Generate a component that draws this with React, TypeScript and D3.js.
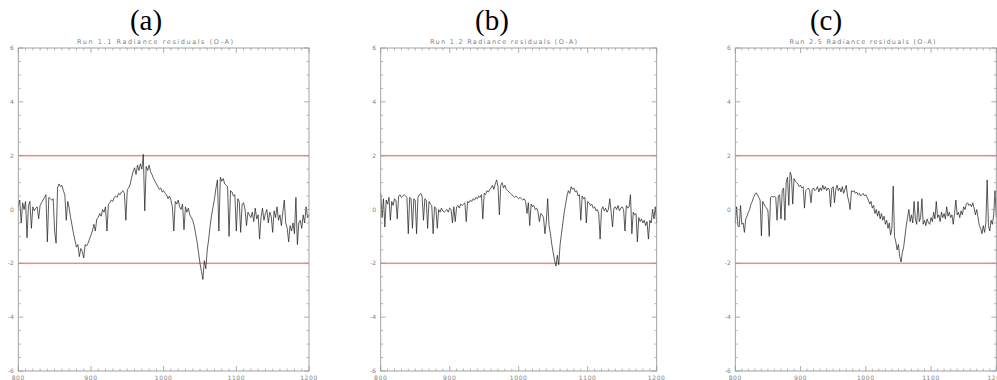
import * as d3 from "d3";

// spectral grid (cm-1), one residual per sample
const wavenumbers = d3.range(800, 1201, 2);

const residualsRun11 = [
  0.1, 0.35, -0.5, 0.25, 0.0, 0.3, -1.05, 0.15, 0.3, -0.7, 0.1, -0.05, 0.05, 0.1, -0.35, 0.15, 0.25, 0.35, 0.45, 0.55,
  -1.2, 0.45, 0.4, 0.35, 0.4, -0.8, -1.25, 0.8, 0.95, 0.85, 0.9, 0.7, 0.55, -0.4, 0.3, 0.05, -0.3, -0.6, -0.9, -1.15,
  -1.4, -1.3, -1.75, -1.45, -1.55, -1.8, -1.3, -1.35, -1.25, -1.1, -0.95, -0.8, -0.55, -0.8, -0.35, -0.3, -0.15, -0.25, 0.0, -0.1,
  0.1, -0.8, 0.2, 0.25, 0.35, 0.3, 0.45, 0.5, 0.45, 0.6, 0.55, 0.65, 0.7, 0.6, -0.4, 0.75, 0.8, 0.95, 1.2, 1.4,
  1.55, 1.3, 1.65, 1.45, 1.7, 1.5, 2.05, -0.05, 1.6, 1.45, 1.65, 1.4, 1.3, 1.15, 1.05, 0.95, 0.85, 0.75, 0.8, 0.65,
  0.7, 0.6, 0.55, 0.4, 0.5, 0.35, 0.1, -0.8, 0.3, 0.2, 0.35, 0.1, 0.0, 0.2, -0.75, 0.1, -0.1, 0.05, -0.2, -0.3,
  -0.4, -0.6, -0.9, -1.2, -1.6, -2.0, -2.3, -2.6, -1.9, -2.2, -1.5, -1.1, -0.6, -0.2, 0.1, 0.4, 0.8, 1.1, -0.8, 1.2,
  1.05, 1.15, 0.95, 0.9, 0.85, -1.0, 0.7, 0.65, 0.5, 0.55, -0.8, 0.4, 0.3, -0.85, 0.2, 0.25, 0.0, -0.6, -0.1, -0.2,
  -0.3, -0.1, -0.45, 0.05, -0.35, -0.2, -1.1, -0.3, 0.05, -0.4, -0.15, 0.0, -0.5, -0.1, -0.25, -0.85, -0.05, -0.3, 0.1, -0.4,
  -0.2, -0.6, -0.1, 0.35, -0.5, -0.7, -1.2, -0.6, -0.8, -0.5, -0.9, 0.45, -1.3, -0.5, -0.4, -0.7, -0.2, -0.5, 0.1, -0.3,
  -0.2,
];

const residualsRun12 = [
  0.6, -0.3, 0.4, -0.65, 0.35, 0.2, 0.45, -0.4, 0.3, 0.15, 0.4, 0.35, -0.35, 0.5, 0.55, 0.45, 0.5, 0.55, 0.5, 0.45,
  -0.9, 0.45, 0.4, -0.7, 0.4, 0.35, -0.9, 0.45, 0.55, 0.6, 0.5, -0.4, 0.4, 0.35, -0.7, 0.3, 0.2, 0.15, -0.9, 0.1,
  0.05, -0.7, 0.0, -0.1, 0.05, -0.05, -0.1, -0.05, 0.0, -0.1, 0.05, 0.0, -0.5, 0.1, -0.45, 0.1, 0.15, 0.05, 0.2, 0.15,
  0.2, 0.25, -0.45, 0.3, 0.25, 0.35, 0.3, 0.4, 0.35, 0.45, 0.4, 0.5, 0.45, 0.55, -0.35, 0.6, 0.55, 0.7, 0.65, 0.75,
  0.8, 0.9, 0.75, 0.95, 1.1, 0.85, -0.2, 0.9, 1.0, 0.8, 0.9, 0.75, 0.7, 0.65, 0.6, 0.55, 0.5, 0.45, 0.5, 0.45,
  0.4, 0.45, 0.4, 0.35, 0.4, 0.3, -0.15, 0.25, -0.6, 0.2, 0.1, 0.15, 0.0, 0.05, -0.1, -0.45, -0.15, -0.2, -0.3, -0.9,
  -0.45, 0.4, -0.6, -0.9, -1.3, -1.6, -1.9, -2.1, -1.7, -2.05, -1.3, -0.9, -0.5, -0.1, 0.2, 0.5, 0.7, 0.6, 0.85, 0.75,
  0.8, 0.65, 0.7, 0.5, 0.55, -0.4, 0.5, 0.4, 0.45, -0.5, 0.3, 0.25, 0.15, 0.2, 0.05, 0.1, -0.05, 0.0, -0.15, -1.1,
  0.0, 0.1, -0.05, 0.05, -0.1, 0.0, 0.4, -0.1, -0.65, 0.05, 0.1, 0.0, 0.15, -0.05, 0.05, 0.1, 0.0, -0.8, 0.15, 0.05,
  0.1, 0.55, -0.9, -0.1, -0.2, -0.15, -1.2, -0.3, -0.45, -0.35, -0.5, -0.4, -0.6, -0.45, -1.1, -0.4, -0.5, 0.0, -0.35, 0.1,
  -0.5,
];

const residualsRun25 = [
  -0.5, 0.1, -0.6, -0.65, 0.15, -0.55, -0.5, -0.85, -0.35, -0.25, -0.1, 0.0, 0.2, 0.3, 0.45, 0.55, 0.62, 0.55, 0.45, 0.35,
  -0.98, 0.3, 0.2, 0.1, 0.05, -0.05, -1.0, 0.45, 0.5, 0.45, 0.5, 0.45, -0.4, 0.5, 0.55, -0.35, 0.7, 0.8, -0.4, 1.0,
  1.2, 0.15, 1.38, 1.25, 0.2, 1.15, 1.05, 1.0, 0.95, 0.85, 0.9, 0.8, 0.85, 0.05, 0.7, 0.75, 0.8, 0.7, 0.25, 0.75,
  0.8, 0.7, 0.75, 0.85, 0.65, 0.8, 0.7, 0.9, 0.75, 0.85, 0.7, 0.8, 0.75, 0.1, 0.8, 0.85, 0.25, 0.75, 0.9, 0.7,
  0.8, 0.65, 0.85, 0.6, 0.75, 0.9, 0.5, 0.3, 0.0, 0.7, 0.65, 0.7, 0.6, 0.65, 0.55, 0.6, 0.5, 0.55, 0.6, 0.5,
  0.55, 0.45, 0.35, 0.2, 0.3, 0.05, 0.15, -0.15, 0.0, -0.25, -0.05, -0.35, -0.15, -0.4, -0.25, -0.55, -0.4, -0.7, -0.5, -0.95,
  -0.7, 0.87, -1.0, -1.2, -1.5, -1.3, -1.75, -1.95, -1.6, -1.4, -1.0, -0.6, -0.3, 0.0, -0.45, -0.2, -0.5, 0.3, -0.35, -0.55,
  0.3, -0.45, -0.3, 0.4, -0.55, -0.4, -0.6, -0.35, -0.5, -0.55, -0.3, -0.45, -0.1, -0.35, 0.3, -0.3, -0.2, -0.45, -0.1, -0.3,
  -0.15, -0.35, 0.1, -0.25, -0.1, -0.3, -0.2, -0.55, -0.15, 0.35, -0.2, -0.1, -0.3, -0.05, -0.2, 0.1, 0.0, 0.2, 0.25, 0.15,
  0.2, 0.1, 0.25, 0.05, -0.2, 0.0, -0.3, -0.6, -0.7, -0.9, -0.6, -0.85, -0.5, 1.1, -0.6, -0.8, -0.4, -0.55, -0.2, 0.7,
  -0.3,
];

const panelLabels = ["(a)", "(b)", "(c)"];
const panelTitles = [
  "Run 1.1 Radiance residuals (O-A)",
  "Run 1.2 Radiance residuals (O-A)",
  "Run 2.5 Radiance residuals (O-A)",
];
const xMajorTicks = [800, 900, 1000, 1100, 1200];
const yMajorTicks = [-6, -4, -2, 0, 2, 4, 6];
const limitLines = [2, -2];

// where each panel sits in the figure
const frames = [
  { left: 18.3, right: 309, labelX: 146, titleX: 155, titleW: 156 },
  { left: 380.7, right: 656.7, labelX: 492, titleX: 503.5, titleW: 147 },
  { left: 735.3, right: 996.3, labelX: 826, titleX: 862.5, titleW: 146 },
];
const top = 48;
const bottom = 371;
const axisColor = "#9a9a9a";
const textColor = "#808080";

function Panel({ values, label, title, frame }) {
  const x = d3.scaleLinear().domain([800, 1200]).range([frame.left, frame.right]);
  const y = d3.scaleLinear().domain([-6, 6]).range([bottom, top]);
  const line = d3
    .line<number>()
    .x((_, i) => x(wavenumbers[i]))
    .y((d) => y(d));
  const xMinor = d3.range(800, 1201, 10).filter((v) => v % 100 !== 0);
  const yMinor = d3.range(-6, 6.01, 0.5).filter((v) => v % 2 !== 0);

  return (
    <g>
      <text
        x={frame.labelX}
        y={29.5}
        textAnchor="middle"
        fontFamily="'Liberation Serif', 'Times New Roman', serif"
        fontSize={29}
        fill="#000"
      >
        {label}
      </text>
      <text
        x={frame.titleX}
        y={43.5}
        textAnchor="middle"
        fontFamily="'DejaVu Sans', sans-serif"
        fontSize={6.5}
        fill={textColor}
        textLength={frame.titleW}
        lengthAdjust="spacing"
      >
        {title}
      </text>

      {/* +/-2 limits */}
      {limitLines.map((v) => (
        <rect
          key={v}
          x={frame.left}
          y={y(v) - 0.75}
          width={frame.right - frame.left}
          height={1.5}
          fill="#f08a8a"
        />
      ))}

      <path d={line(values) ?? ""} fill="none" stroke="#262626" strokeWidth={0.75} strokeLinejoin="round" />

      <rect
        x={frame.left}
        y={top}
        width={frame.right - frame.left}
        height={bottom - top}
        fill="none"
        stroke={axisColor}
        strokeWidth={0.9}
      />

      {/* x ticks, bottom and top */}
      {xMajorTicks.map((v) => (
        <g key={"xm" + v}>
          <line x1={x(v)} x2={x(v)} y1={bottom} y2={bottom - 5} stroke={axisColor} strokeWidth={0.8} />
          <line x1={x(v)} x2={x(v)} y1={top} y2={top + 5} stroke={axisColor} strokeWidth={0.8} />
          <text
            x={x(v)}
            y={379.5}
            textAnchor="middle"
            fontFamily="'DejaVu Sans', sans-serif"
            fontSize={6}
            letterSpacing={0.6}
            fill={textColor}
          >
            {v}
          </text>
        </g>
      ))}
      {xMinor.map((v) => (
        <g key={"xn" + v}>
          <line x1={x(v)} x2={x(v)} y1={bottom} y2={bottom - 2.5} stroke={axisColor} strokeWidth={0.7} />
          <line x1={x(v)} x2={x(v)} y1={top} y2={top + 2.5} stroke={axisColor} strokeWidth={0.7} />
        </g>
      ))}

      {/* y ticks, left and right */}
      {yMajorTicks.map((v) => (
        <g key={"ym" + v}>
          <line x1={frame.left} x2={frame.left + 5} y1={y(v)} y2={y(v)} stroke={axisColor} strokeWidth={0.8} />
          <line x1={frame.right} x2={frame.right - 5} y1={y(v)} y2={y(v)} stroke={axisColor} strokeWidth={0.8} />
          <text
            x={frame.left - 4.5}
            y={y(v)}
            dy="0.35em"
            textAnchor="end"
            fontFamily="'DejaVu Sans', sans-serif"
            fontSize={6}
            fill={textColor}
          >
            {v}
          </text>
        </g>
      ))}
      {yMinor.map((v) => (
        <g key={"yn" + v}>
          <line x1={frame.left} x2={frame.left + 2.5} y1={y(v)} y2={y(v)} stroke={axisColor} strokeWidth={0.7} />
          <line x1={frame.right} x2={frame.right - 2.5} y1={y(v)} y2={y(v)} stroke={axisColor} strokeWidth={0.7} />
        </g>
      ))}
    </g>
  );
}

export default function App() {
  const series = [residualsRun11, residualsRun12, residualsRun25];
  return (
    <svg
      width={997}
      height={380}
      style={{ position: "absolute", left: 0, top: 0, background: "#fff" }}
    >
      {series.map((values, i) => (
        <Panel key={i} values={values} label={panelLabels[i]} title={panelTitles[i]} frame={frames[i]} />
      ))}
    </svg>
  );
}
